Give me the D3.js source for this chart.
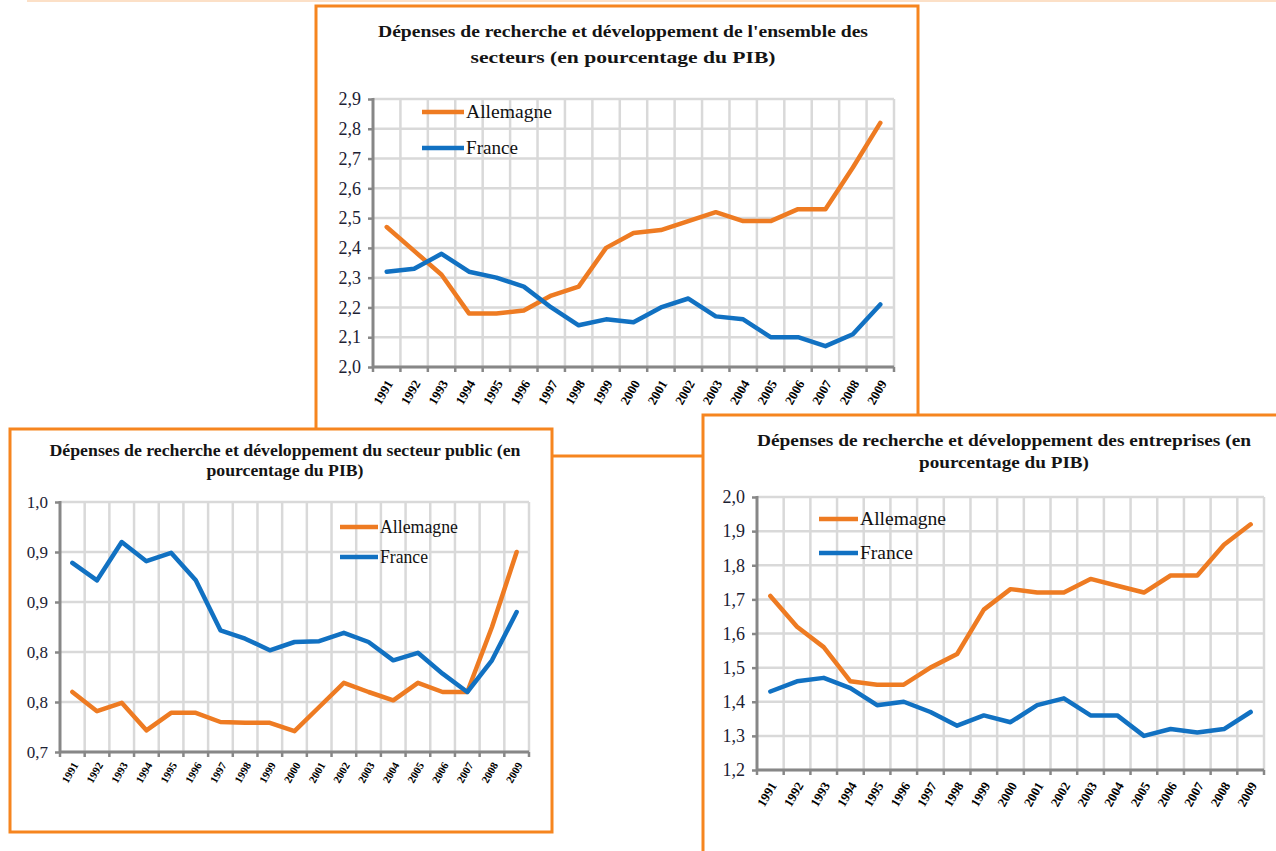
<!DOCTYPE html>
<html>
<head>
<meta charset="utf-8">
<script src="https://cdn.jsdelivr.net/npm/d3@7"></script>
<style>
  body { margin: 0; background: #fff; }
  svg text { font-family: "Liberation Serif", "Times New Roman", Times, serif; }
</style>
</head>
<body>
<script>
'use strict';

var years = ["1991", "1992", "1993", "1994", "1995", "1996", "1997", "1998", "1999", "2000",
  "2001", "2002", "2003", "2004", "2005", "2006", "2007", "2008", "2009"];

// ensemble des secteurs
var totalAllemagne = [2.47, 2.39, 2.31, 2.18, 2.18, 2.19, 2.24, 2.27, 2.40, 2.45,
  2.46, 2.49, 2.52, 2.49, 2.49, 2.53, 2.53, 2.67, 2.82];
var totalFrance = [2.32, 2.33, 2.38, 2.32, 2.30, 2.27, 2.20, 2.14, 2.16, 2.15,
  2.20, 2.23, 2.17, 2.16, 2.10, 2.10, 2.07, 2.11, 2.21];
var totalTicks = [2.0, 2.1, 2.2, 2.3, 2.4, 2.5, 2.6, 2.7, 2.8, 2.9];
var totalTickLabels = ["2,0", "2,1", "2,2", "2,3", "2,4", "2,5", "2,6", "2,7", "2,8", "2,9"];

// secteur public
var publicAllemagne = [0.772, 0.749, 0.759, 0.726, 0.747, 0.747, 0.736, 0.735, 0.735, 0.725,
  0.754, 0.783, 0.772, 0.762, 0.783, 0.772, 0.772, 0.850, 0.940];
var publicFrance = [0.927, 0.906, 0.952, 0.929, 0.939, 0.906, 0.846, 0.836, 0.822, 0.832,
  0.833, 0.843, 0.832, 0.810, 0.819, 0.794, 0.772, 0.810, 0.868];
var publicTicks = [0.70, 0.76, 0.82, 0.88, 0.94, 1.00];
var publicTickLabels = ["0,7", "0,8", "0,8", "0,9", "0,9", "1,0"];

// entreprises
var entAllemagne = [1.71, 1.62, 1.56, 1.46, 1.45, 1.45, 1.50, 1.54, 1.67, 1.73,
  1.72, 1.72, 1.76, 1.74, 1.72, 1.77, 1.77, 1.86, 1.92];
var entFrance = [1.43, 1.46, 1.47, 1.44, 1.39, 1.40, 1.37, 1.33, 1.36, 1.34,
  1.39, 1.41, 1.36, 1.36, 1.30, 1.32, 1.31, 1.32, 1.37];
var entTicks = [1.2, 1.3, 1.4, 1.5, 1.6, 1.7, 1.8, 1.9, 2.0];
var entTickLabels = ["1,2", "1,3", "1,4", "1,5", "1,6", "1,7", "1,8", "1,9", "2,0"];

var orange = "#ee7b22";
var blue = "#1171c2";
var border = "#f6851f";
var serif = "'Liberation Serif', 'Times New Roman', Times, serif";

var svg = d3.select("body").append("svg")
  .attr("width", 1276)
  .attr("height", 851);

// faint line along the top
svg.append("line")
  .attr("x1", 27).attr("x2", 1276)
  .attr("y1", 1).attr("y2", 1)
  .attr("stroke", "#fbd6b4").attr("stroke-width", 1.5);

function drawPanel(p) {
  var g = svg.append("g");

  g.append("rect")
    .attr("x", p.box[0]).attr("y", p.box[1])
    .attr("width", p.box[2]).attr("height", p.box[3])
    .attr("fill", "#fff")
    .attr("stroke", border)
    .attr("stroke-width", 3);

  // title
  p.title.forEach(function (t, i) {
    g.append("text")
      .attr("x", p.titleX - t.w / 2)
      .attr("y", p.titleY[i])
      .attr("dominant-baseline", "central")
      .style("font-family", serif)
      .attr("font-size", 16)
      .attr("font-weight", "bold")
      .attr("fill", "#141414")
      .attr("textLength", t.w)
      .attr("lengthAdjust", "spacingAndGlyphs")
      .text(t.s);
  });

  var x = d3.scaleBand().domain(years).range([p.left, p.right]).padding(0);
  var y = d3.scaleLinear().domain(p.domain).range([p.bottom, p.top]);

  // grid
  g.append("g").selectAll("line").data(p.ticks).join("line")
    .attr("x1", p.left).attr("x2", p.right)
    .attr("y1", d => y(d)).attr("y2", d => y(d))
    .attr("stroke", "#d9d9d9").attr("stroke-width", 2.5);
  var bounds = years.map(d => x(d)).concat([x(years[years.length - 1]) + x.bandwidth()]);
  g.append("g").selectAll("line").data(bounds.slice(1)).join("line")
    .attr("x1", d => d).attr("x2", d => d)
    .attr("y1", p.top).attr("y2", p.bottom)
    .attr("stroke", "#d9d9d9").attr("stroke-width", 2.5);

  // x tick stubs
  g.append("g").selectAll("line").data(bounds).join("line")
    .attr("x1", d => d).attr("x2", d => d)
    .attr("y1", p.bottom).attr("y2", p.bottom + 5)
    .attr("stroke", "#878787").attr("stroke-width", 2.5);

  // y axis
  var yAxis = d3.axisLeft(y)
    .tickValues(p.ticks)
    .tickSize(5)
    .tickPadding(7)
    .tickFormat((d, i) => p.tickLabels[i]);
  var ya = g.append("g")
    .attr("transform", "translate(" + p.left + ",0)")
    .call(yAxis)
    .attr("font-family", null);
  ya.select(".domain").remove();
  ya.selectAll("line").attr("stroke", "#878787").attr("stroke-width", 2.5);
  ya.selectAll("text")
    .style("font-family", serif)
    .attr("font-size", p.yFont)
    .attr("fill", "#1c2133");
  g.append("line")
    .attr("x1", p.left).attr("x2", p.left)
    .attr("y1", p.top - 1).attr("y2", p.bottom + 1)
    .attr("stroke", "#878787").attr("stroke-width", 3);
  g.append("line")
    .attr("x1", p.left - 1).attr("x2", p.right)
    .attr("y1", p.bottom).attr("y2", p.bottom)
    .attr("stroke", "#878787").attr("stroke-width", 3);

  // x labels
  var xAxis = d3.axisBottom(x).tickSize(0).tickPadding(0);
  var xa = g.append("g")
    .attr("transform", "translate(0," + p.bottom + ")")
    .call(xAxis)
    .attr("font-family", null);
  xa.select(".domain").remove();
  xa.selectAll("text")
    .style("font-family", serif)
    .attr("font-weight", "bold")
    .attr("font-size", p.xFont)
    .attr("fill", "#000")
    .attr("text-anchor", "end")
    .attr("dy", null)
    .attr("dominant-baseline", "central")
    .attr("transform", "translate(3," + p.xOff + ") rotate(-60)");

  // series
  var line = d3.line()
    .x((d, i) => x(years[i]) + x.bandwidth() / 2)
    .y(d => y(d));
  [[p.de, orange], [p.fr, blue]].forEach(function (s) {
    g.append("path")
      .datum(s[0])
      .attr("fill", "none")
      .attr("stroke", s[1])
      .attr("stroke-width", 4.5)
      .attr("stroke-linejoin", "round")
      .attr("stroke-linecap", "round")
      .attr("d", line);
  });

  // legend
  var leg = [["Allemagne", orange, p.legW[0]], ["France", blue, p.legW[1]]];
  leg.forEach(function (l, i) {
    var ly = p.legY[i];
    g.append("line")
      .attr("x1", p.legX[0]).attr("x2", p.legX[1])
      .attr("y1", ly).attr("y2", ly)
      .attr("stroke", l[1]).attr("stroke-width", 4.5);
    g.append("text")
      .attr("x", p.legX[1] + 2)
      .attr("y", ly)
      .attr("dominant-baseline", "central")
      .style("font-family", serif)
      .attr("font-size", 18)
      .attr("fill", "#111")
      .attr("textLength", l[2])
      .attr("lengthAdjust", "spacingAndGlyphs")
      .text(l[0]);
  });
}

drawPanel({
  box: [316, 6, 602, 450],
  title: [{ s: "Dépenses de recherche et développement de l'ensemble des", w: 490 },
          { s: "secteurs (en pourcentage du PIB)", w: 305 }],
  titleX: 623, titleY: [31, 57],
  left: 373, right: 894, top: 99, bottom: 367,
  domain: [2.0, 2.9], ticks: totalTicks, tickLabels: totalTickLabels,
  yFont: 18, xFont: 13, xOff: 14,
  de: totalAllemagne, fr: totalFrance,
  legX: [422, 464], legY: [112, 148], legW: [86, 52]
});

drawPanel({
  box: [10, 429, 542, 403],
  title: [{ s: "Dépenses de recherche et développement du secteur public (en", w: 471 },
          { s: "pourcentage du PIB)", w: 157 }],
  titleX: 285, titleY: [450, 470],
  left: 60, right: 529, top: 502, bottom: 752,
  domain: [0.7, 1.0], ticks: publicTicks, tickLabels: publicTickLabels,
  yFont: 17, xFont: 11, xOff: 11,
  de: publicAllemagne, fr: publicFrance,
  legX: [340, 378], legY: [527, 557], legW: [78, 48]
});

drawPanel({
  box: [703, 415, 600, 460],
  title: [{ s: "Dépenses de recherche et développement des entreprises (en", w: 494 },
          { s: "pourcentage du PIB)", w: 170 }],
  titleX: 1004, titleY: [440, 462],
  left: 757, right: 1264, top: 497, bottom: 770,
  domain: [1.2, 2.0], ticks: entTicks, tickLabels: entTickLabels,
  yFont: 18, xFont: 13, xOff: 13,
  de: entAllemagne, fr: entFrance,
  legX: [819, 858], legY: [519, 553], legW: [86, 53]
});
</script>
</body>
</html>
